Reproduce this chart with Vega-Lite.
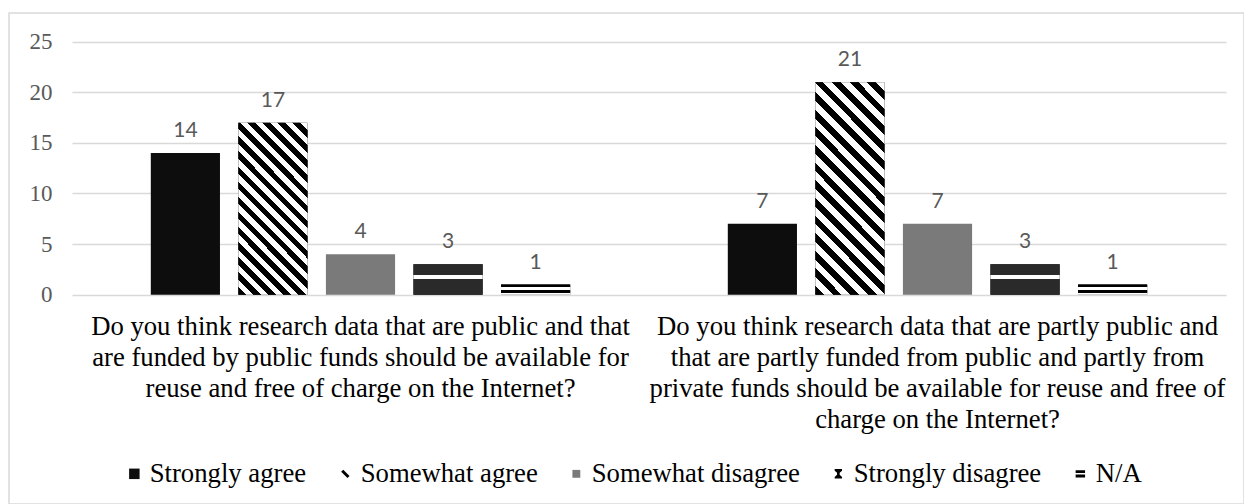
{
  "$schema": "https://vega.github.io/schema/vega-lite/v6.json",
  "autosize": "none",
  "width": 1235,
  "height": 491,
  "padding": {"left": 9, "top": 13, "right": 0, "bottom": 0},
  "background": "white",
  "config": {"view": {"stroke": "#d9d9d9", "strokeWidth": 1.5}},
  "data": {
    "values": [
      {"question": "Do you think research data that are public and that are funded by public funds should be available for reuse and free of charge on the Internet?", "response": "Strongly agree", "count": 14},
      {"question": "Do you think research data that are public and that are funded by public funds should be available for reuse and free of charge on the Internet?", "response": "Somewhat agree", "count": 17},
      {"question": "Do you think research data that are public and that are funded by public funds should be available for reuse and free of charge on the Internet?", "response": "Somewhat disagree", "count": 4},
      {"question": "Do you think research data that are public and that are funded by public funds should be available for reuse and free of charge on the Internet?", "response": "Strongly disagree", "count": 3},
      {"question": "Do you think research data that are public and that are funded by public funds should be available for reuse and free of charge on the Internet?", "response": "N/A", "count": 1},
      {"question": "Do you think research data that are partly public and that are partly funded from public and partly from private funds should be available for reuse and free of charge on the Internet?", "response": "Strongly agree", "count": 7},
      {"question": "Do you think research data that are partly public and that are partly funded from public and partly from private funds should be available for reuse and free of charge on the Internet?", "response": "Somewhat agree", "count": 21},
      {"question": "Do you think research data that are partly public and that are partly funded from public and partly from private funds should be available for reuse and free of charge on the Internet?", "response": "Somewhat disagree", "count": 7},
      {"question": "Do you think research data that are partly public and that are partly funded from public and partly from private funds should be available for reuse and free of charge on the Internet?", "response": "Strongly disagree", "count": 3},
      {"question": "Do you think research data that are partly public and that are partly funded from public and partly from private funds should be available for reuse and free of charge on the Internet?", "response": "N/A", "count": 1}
    ]
  },
  "encoding": {
    "x": {
      "field": "question",
      "type": "nominal",
      "sort": null,
      "scale": {"range": [63, 1217], "paddingInner": 0, "paddingOuter": 0},
      "axis": {
        "title": null,
        "offset": -209.3,
        "domain": false,
        "ticks": false,
        "labelAngle": 0,
        "labelLimit": 0,
        "labelFont": "Liberation Serif",
        "labelFontSize": 26.7,
        "labelColor": "#000000",
        "labelLineHeight": 31,
        "labelPadding": 19,
        "labelBaseline": "top",
        "labelExpr": "indexof(datum.value, 'partly') < 0 ? ['Do you think research data that are public and that', 'are funded by public funds should be available for', 'reuse and free of charge on the Internet?'] : ['Do you think research data that are partly public and', 'that are partly funded from public and partly from', 'private funds should be available for reuse and free of', 'charge on the Internet?']"
      }
    },
    "xOffset": {
      "field": "response",
      "type": "nominal",
      "scale": {
        "domain": ["Strongly agree", "Somewhat agree", "Somewhat disagree", "Strongly disagree", "N/A"],
        "paddingInner": 0.21,
        "paddingOuter": 0.9
      }
    },
    "y": {
      "field": "count",
      "type": "quantitative",
      "scale": {"domain": [0, 25], "range": [281.7, 28.7], "nice": false, "zero": true},
      "axis": {
        "title": null,
        "offset": -63,
        "values": [0, 5, 10, 15, 20, 25],
        "domain": false,
        "ticks": false,
        "gridColor": "#d9d9d9",
        "gridWidth": 1.5,
        "labelFont": "Liberation Serif",
        "labelFontSize": 23,
        "labelColor": "#595959",
        "labelPadding": 20
      }
    }
  },
  "layer": [
    {
      "mark": {"type": "bar"},
      "encoding": {
        "color": {
          "field": "response",
          "type": "nominal",
          "scale": {
            "domain": ["Strongly agree", "Somewhat agree", "Somewhat disagree", "Strongly disagree", "N/A"],
            "range": ["#0d0d0d", "#000000", "#7a7a7a", "#000000", "#000000"]
          },
          "legend": {
            "title": null,
            "orient": "none",
            "legendX": 112,
            "legendY": 447,
            "direction": "horizontal",
            "labelFont": "Liberation Serif",
            "labelFontSize": 26.7,
            "labelColor": "#000000",
            "labelLimit": 0,
            "labelOffset": 2,
            "columnPadding": 25,
            "symbolSize": 110,
            "symbolStrokeWidth": 0,
            "symbolType": "square",
            "encode": {
              "symbols": {
                "update": {
                  "shape": {"signal": "datum.value === 'Somewhat agree' ? 'M-0.8,-0.4L-0.4,-0.8L0.8,0.4L0.4,0.8Z' : datum.value === 'Strongly disagree' ? 'M-0.7,-0.9L0.7,-0.9L0.7,-0.6L0.25,-0.2L0.25,0.2L0.7,0.6L0.7,0.9L-0.7,0.9L-0.7,0.6L-0.25,0.2L-0.25,-0.2L-0.7,-0.6Z' : datum.value === 'N/A' ? 'M-0.9,-0.7L0.9,-0.7L0.9,-0.15L-0.9,-0.15Z M-0.9,0.15L0.9,0.15L0.9,0.7L-0.9,0.7Z' : datum.value === 'Somewhat disagree' ? 'M-0.75,-0.75L0.75,-0.75L0.75,0.75L-0.75,0.75Z' : 'square'"}
                }
              }
            }
          }
        }
      }
    },
    {
      "mark": {"type": "bar"},
      "encoding": {
        "fill": {
          "condition": [
            {
              "test": "datum.response === 'Somewhat agree' && indexof(datum.question, 'partly') < 0",
              "value": {
                "gradient": "linear", "x1": 0, "y1": 1, "x2": 0.4877, "y2": -0.207,
                "stops": [
                  {"offset": 0, "color": "#000"}, {"offset": 0.03125, "color": "#000"},
                  {"offset": 0.03125, "color": "#fff"}, {"offset": 0.0625, "color": "#fff"},
                  {"offset": 0.0625, "color": "#000"}, {"offset": 0.09375, "color": "#000"},
                  {"offset": 0.09375, "color": "#fff"}, {"offset": 0.125, "color": "#fff"},
                  {"offset": 0.125, "color": "#000"}, {"offset": 0.15625, "color": "#000"},
                  {"offset": 0.15625, "color": "#fff"}, {"offset": 0.1875, "color": "#fff"},
                  {"offset": 0.1875, "color": "#000"}, {"offset": 0.21875, "color": "#000"},
                  {"offset": 0.21875, "color": "#fff"}, {"offset": 0.25, "color": "#fff"},
                  {"offset": 0.25, "color": "#000"}, {"offset": 0.28125, "color": "#000"},
                  {"offset": 0.28125, "color": "#fff"}, {"offset": 0.3125, "color": "#fff"},
                  {"offset": 0.3125, "color": "#000"}, {"offset": 0.34375, "color": "#000"},
                  {"offset": 0.34375, "color": "#fff"}, {"offset": 0.375, "color": "#fff"},
                  {"offset": 0.375, "color": "#000"}, {"offset": 0.40625, "color": "#000"},
                  {"offset": 0.40625, "color": "#fff"}, {"offset": 0.4375, "color": "#fff"},
                  {"offset": 0.4375, "color": "#000"}, {"offset": 0.46875, "color": "#000"},
                  {"offset": 0.46875, "color": "#fff"}, {"offset": 0.5, "color": "#fff"},
                  {"offset": 0.5, "color": "#000"}, {"offset": 0.53125, "color": "#000"},
                  {"offset": 0.53125, "color": "#fff"}, {"offset": 0.5625, "color": "#fff"},
                  {"offset": 0.5625, "color": "#000"}, {"offset": 0.59375, "color": "#000"},
                  {"offset": 0.59375, "color": "#fff"}, {"offset": 0.625, "color": "#fff"},
                  {"offset": 0.625, "color": "#000"}, {"offset": 0.65625, "color": "#000"},
                  {"offset": 0.65625, "color": "#fff"}, {"offset": 0.6875, "color": "#fff"},
                  {"offset": 0.6875, "color": "#000"}, {"offset": 0.71875, "color": "#000"},
                  {"offset": 0.71875, "color": "#fff"}, {"offset": 0.75, "color": "#fff"},
                  {"offset": 0.75, "color": "#000"}, {"offset": 0.78125, "color": "#000"},
                  {"offset": 0.78125, "color": "#fff"}, {"offset": 0.8125, "color": "#fff"},
                  {"offset": 0.8125, "color": "#000"}, {"offset": 0.84375, "color": "#000"},
                  {"offset": 0.84375, "color": "#fff"}, {"offset": 0.875, "color": "#fff"},
                  {"offset": 0.875, "color": "#000"}, {"offset": 0.90625, "color": "#000"},
                  {"offset": 0.90625, "color": "#fff"}, {"offset": 0.9375, "color": "#fff"},
                  {"offset": 0.9375, "color": "#000"}, {"offset": 0.96875, "color": "#000"},
                  {"offset": 0.96875, "color": "#fff"}, {"offset": 1, "color": "#fff"}
                ]
              }
            },
            {
              "test": "datum.response === 'Somewhat agree' && indexof(datum.question, 'partly') >= 0",
              "value": {
                "gradient": "linear", "x1": 0, "y1": 1, "x2": 0.3921, "y2": -0.1988,
                "stops": [
                  {"offset": 0, "color": "#000"}, {"offset": 0.03125, "color": "#000"},
                  {"offset": 0.03125, "color": "#fff"}, {"offset": 0.0625, "color": "#fff"},
                  {"offset": 0.0625, "color": "#000"}, {"offset": 0.09375, "color": "#000"},
                  {"offset": 0.09375, "color": "#fff"}, {"offset": 0.125, "color": "#fff"},
                  {"offset": 0.125, "color": "#000"}, {"offset": 0.15625, "color": "#000"},
                  {"offset": 0.15625, "color": "#fff"}, {"offset": 0.1875, "color": "#fff"},
                  {"offset": 0.1875, "color": "#000"}, {"offset": 0.21875, "color": "#000"},
                  {"offset": 0.21875, "color": "#fff"}, {"offset": 0.25, "color": "#fff"},
                  {"offset": 0.25, "color": "#000"}, {"offset": 0.28125, "color": "#000"},
                  {"offset": 0.28125, "color": "#fff"}, {"offset": 0.3125, "color": "#fff"},
                  {"offset": 0.3125, "color": "#000"}, {"offset": 0.34375, "color": "#000"},
                  {"offset": 0.34375, "color": "#fff"}, {"offset": 0.375, "color": "#fff"},
                  {"offset": 0.375, "color": "#000"}, {"offset": 0.40625, "color": "#000"},
                  {"offset": 0.40625, "color": "#fff"}, {"offset": 0.4375, "color": "#fff"},
                  {"offset": 0.4375, "color": "#000"}, {"offset": 0.46875, "color": "#000"},
                  {"offset": 0.46875, "color": "#fff"}, {"offset": 0.5, "color": "#fff"},
                  {"offset": 0.5, "color": "#000"}, {"offset": 0.53125, "color": "#000"},
                  {"offset": 0.53125, "color": "#fff"}, {"offset": 0.5625, "color": "#fff"},
                  {"offset": 0.5625, "color": "#000"}, {"offset": 0.59375, "color": "#000"},
                  {"offset": 0.59375, "color": "#fff"}, {"offset": 0.625, "color": "#fff"},
                  {"offset": 0.625, "color": "#000"}, {"offset": 0.65625, "color": "#000"},
                  {"offset": 0.65625, "color": "#fff"}, {"offset": 0.6875, "color": "#fff"},
                  {"offset": 0.6875, "color": "#000"}, {"offset": 0.71875, "color": "#000"},
                  {"offset": 0.71875, "color": "#fff"}, {"offset": 0.75, "color": "#fff"},
                  {"offset": 0.75, "color": "#000"}, {"offset": 0.78125, "color": "#000"},
                  {"offset": 0.78125, "color": "#fff"}, {"offset": 0.8125, "color": "#fff"},
                  {"offset": 0.8125, "color": "#000"}, {"offset": 0.84375, "color": "#000"},
                  {"offset": 0.84375, "color": "#fff"}, {"offset": 0.875, "color": "#fff"},
                  {"offset": 0.875, "color": "#000"}, {"offset": 0.90625, "color": "#000"},
                  {"offset": 0.90625, "color": "#fff"}, {"offset": 0.9375, "color": "#fff"},
                  {"offset": 0.9375, "color": "#000"}, {"offset": 0.96875, "color": "#000"},
                  {"offset": 0.96875, "color": "#fff"}, {"offset": 1, "color": "#fff"}
                ]
              }
            },
            {
              "test": "datum.response === 'Strongly disagree'",
              "value": {
                "gradient": "linear", "x1": 0, "y1": 0, "x2": 0, "y2": 1,
                "stops": [
                  {"offset": 0, "color": "#2a2a2a"}, {"offset": 0.36, "color": "#2a2a2a"},
                  {"offset": 0.36, "color": "#ffffff"}, {"offset": 0.47, "color": "#ffffff"},
                  {"offset": 0.47, "color": "#2a2a2a"}, {"offset": 1, "color": "#2a2a2a"}
                ]
              }
            },
            {
              "test": "datum.response === 'N/A'",
              "value": {
                "gradient": "linear", "x1": 0, "y1": 0, "x2": 0, "y2": 1,
                "stops": [
                  {"offset": 0, "color": "#000"}, {"offset": 0.27, "color": "#000"},
                  {"offset": 0.27, "color": "#fff"}, {"offset": 0.5, "color": "#fff"},
                  {"offset": 0.5, "color": "#000"}, {"offset": 0.8, "color": "#000"},
                  {"offset": 0.8, "color": "#fff"}, {"offset": 1, "color": "#fff"}
                ]
              }
            }
          ],
          "value": "transparent"
        }
      }
    },
    {
      "mark": {
        "type": "text",
        "baseline": "alphabetic",
        "dy": -16,
        "font": "Lato",
        "fontSize": 21,
        "color": "#595959"
      },
      "encoding": {
        "text": {"field": "count", "type": "quantitative"}
      }
    }
  ]
}
